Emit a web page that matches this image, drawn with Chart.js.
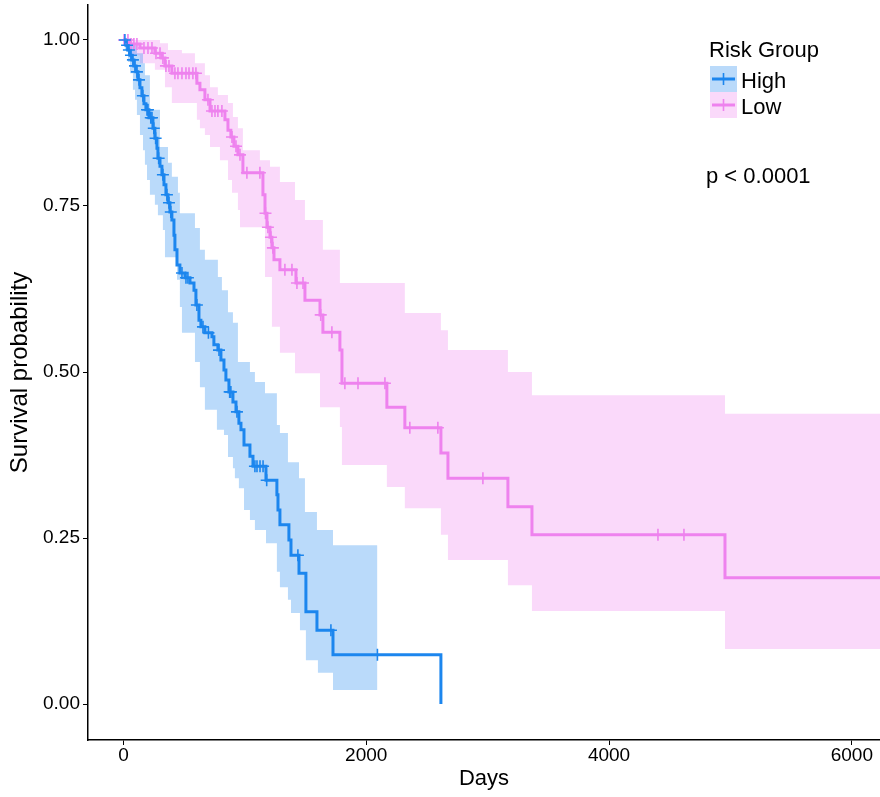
<!DOCTYPE html>
<html><head><meta charset="utf-8">
<script src="https://cdn.jsdelivr.net/npm/chart.js@4"></script>
<style>html,body{margin:0;padding:0;background:#fff}#wrap{width:880px;height:797px;position:relative}</style>
</head><body><div id="wrap"><canvas id="c" width="880" height="797"></canvas></div>
<script>
const xTicks = [0, 2000, 4000, 6000];
const yTicks = [0, 0.25, 0.5, 0.75, 1];
const groups = ['High', 'Low'];
const legendTitle = 'Risk Group';
const pValueText = 'p < 0.0001';

const highTime = [0,21,37,54,70,86,103,119,136,152,169,185,210,243,259,276,284,301,317,334,350,367,383,399,416,424,441,465,507,548,581,597,622,638,671,729,745,778,803,828,844,869,902,927,951,968,993,1042,1067,1174,1264,1273,1289,1363,1380,1446,1503,1594,1726,2615];
const highSurv = [1,0.992,0.985,0.977,0.970,0.961,0.952,0.940,0.928,0.916,0.904,0.895,0.883,0.867,0.852,0.837,0.822,0.810,0.797,0.782,0.767,0.755,0.741,0.729,0.706,0.684,0.661,0.649,0.642,0.634,0.623,0.601,0.578,0.568,0.559,0.553,0.541,0.533,0.518,0.503,0.488,0.470,0.455,0.440,0.423,0.413,0.390,0.373,0.358,0.337,0.315,0.292,0.270,0.247,0.224,0.197,0.139,0.111,0.074,0];

const highUpperTime = [0,54,111,161,177,218,301,367,399,449,465,589,630,671,778,811,861,902,943,1042,1083,1166,1264,1289,1355,1446,1495,1594,1726,2092];
const highUpper = [1,0.992,0.980,0.965,0.947,0.895,0.839,0.815,0.794,0.770,0.739,0.717,0.684,0.669,0.643,0.623,0.590,0.574,0.515,0.500,0.485,0.468,0.420,0.408,0.364,0.340,0.289,0.262,0.239,0.239];
const highLowerTime = [0,12,37,54,78,95,111,136,161,177,194,218,259,284,325,342,441,465,482,589,630,671,770,828,861,902,918,951,993,1042,1083,1174,1264,1289,1355,1380,1454,1503,1602,1726,2092];
const highLower = [1,0.985,0.967,0.950,0.925,0.910,0.887,0.857,0.834,0.812,0.789,0.767,0.752,0.736,0.714,0.673,0.639,0.598,0.559,0.515,0.477,0.443,0.413,0.405,0.372,0.355,0.340,0.325,0.292,0.277,0.262,0.242,0.199,0.176,0.157,0.137,0.111,0.066,0.047,0.021,0.021];

const highCensorTime = [12,30,45,62,78,95,111,128,160,194,202,225,235,250,265,290,325,358,375,390,482,515,531,605,655,700,787,875,885,935,1083,1100,1125,1150,1180,1437,1709,2092];
const highCensorSurv = [1,0.992,0.985,0.977,0.970,0.961,0.952,0.940,0.916,0.895,0.895,0.883,0.883,0.867,0.852,0.822,0.797,0.767,0.755,0.741,0.649,0.642,0.642,0.601,0.568,0.559,0.533,0.470,0.470,0.440,0.358,0.358,0.358,0.358,0.337,0.224,0.111,0.074];

const lowTime = [0,54,136,259,317,342,399,605,630,671,713,836,861,885,910,943,984,1149,1166,1182,1207,1223,1240,1289,1421,1495,1619,1643,1783,1800,2170,2318,2615,2673,3167,3365,4955,6232];
const lowSurv = [1,0.994,0.988,0.980,0.973,0.961,0.950,0.935,0.925,0.910,0.893,0.880,0.864,0.854,0.840,0.827,0.800,0.767,0.739,0.718,0.703,0.687,0.669,0.654,0.634,0.608,0.586,0.560,0.533,0.483,0.447,0.416,0.378,0.340,0.297,0.255,0.190,0.190];

const lowUpperTime = [0,301,367,482,589,671,713,778,861,902,943,984,1124,1207,1289,1413,1495,1643,1783,2318,2615,2673,3167,3365,4955,6232];
const lowUpper = [1,0.995,0.985,0.980,0.965,0.947,0.929,0.917,0.905,0.884,0.867,0.834,0.819,0.809,0.786,0.759,0.729,0.684,0.634,0.589,0.563,0.533,0.500,0.465,0.437,0.437];
const lowLowerTime = [0,12,54,136,259,342,399,605,630,671,713,795,861,894,943,960,1166,1223,1289,1413,1619,1783,1800,2170,2318,2615,2673,3167,3365,4955,6232];
const lowLower = [1,0.992,0.977,0.965,0.955,0.929,0.905,0.880,0.867,0.857,0.839,0.819,0.789,0.770,0.744,0.718,0.643,0.568,0.529,0.498,0.447,0.417,0.360,0.327,0.295,0.255,0.217,0.179,0.140,0.083,0.083];

const lowCensorTime = [5,37,62,86,111,169,202,235,268,301,325,350,375,424,449,482,515,540,572,597,696,729,754,778,811,894,927,960,1017,1124,1170,1190,1215,1231,1330,1388,1429,1479,1625,1717,1824,1932,2154,2359,2590,2961,4403,4617];
const lowCensorSurv = [1,1,0.994,0.994,0.994,0.988,0.988,0.988,0.980,0.980,0.973,0.961,0.961,0.950,0.950,0.950,0.950,0.950,0.950,0.950,0.910,0.893,0.893,0.893,0.893,0.854,0.840,0.827,0.800,0.800,0.739,0.718,0.703,0.687,0.654,0.654,0.634,0.634,0.586,0.560,0.483,0.483,0.483,0.416,0.416,0.340,0.255,0.255];

const lineColors = ['#1C86EE', '#EE82EE'];
const bandColors = ['rgba(28,134,238,0.3)', 'rgba(238,130,238,0.3)'];
const FONT = '"Liberation Sans", Arial, Helvetica, sans-serif';

const pts = (t, s) => t.map((v, i) => ({x: v, y: s[i]}));

const datasets = [];
const series = [
  [highTime, highSurv, highUpperTime, highUpper, highLowerTime, highLower, highCensorTime, highCensorSurv],
  [lowTime, lowSurv, lowUpperTime, lowUpper, lowLowerTime, lowLower, lowCensorTime, lowCensorSurv]
];
series.forEach((s, g) => {
  datasets.push({label: groups[g] + ' upper', data: pts(s[2], s[3]), stepped: true, borderWidth: 0, pointRadius: 0, fill: '+1', backgroundColor: bandColors[g], borderColor: 'rgba(0,0,0,0)', order: 5 + g});
  datasets.push({label: groups[g] + ' lower', data: pts(s[4], s[5]), stepped: true, borderWidth: 0, pointRadius: 0, fill: false, borderColor: 'rgba(0,0,0,0)', order: 5 + g});
});
series.forEach((s, g) => {
  datasets.push({label: groups[g], data: pts(s[0], s[1]), stepped: true, borderWidth: 3, pointRadius: 0, fill: false, borderColor: lineColors[g], order: 3});
  datasets.push({label: groups[g] + ' censor', type: 'scatter', data: pts(s[6], s[7]), pointStyle: 'cross', pointRadius: 6, borderWidth: 1.6, borderColor: lineColors[g], backgroundColor: lineColors[g], order: 1});
});

const legendPlugin = {
  id: 'kmLegend',
  afterDraw(chart) {
    const ctx = chart.ctx;
    ctx.save();
    ctx.fillStyle = '#000';
    ctx.textBaseline = 'alphabetic';
    ctx.textAlign = 'left';
    ctx.font = '22px ' + FONT;
    ctx.fillText(legendTitle, 709, 57);
    groups.forEach((g, i) => {
      const y0 = 66 + i * 26;
      ctx.fillStyle = '#fff';
      ctx.fillRect(710, y0, 27, 26);
      ctx.fillStyle = bandColors[i];
      ctx.fillRect(710, y0, 27, 26);
      ctx.strokeStyle = lineColors[i];
      ctx.lineWidth = 3;
      ctx.beginPath(); ctx.moveTo(712, y0 + 13); ctx.lineTo(735, y0 + 13); ctx.stroke();
      ctx.lineWidth = 1.6;
      ctx.beginPath(); ctx.moveTo(723.5, y0 + 7); ctx.lineTo(723.5, y0 + 19); ctx.stroke();
      ctx.fillStyle = '#000';
      ctx.font = '22px ' + FONT;
      ctx.fillText(g, 741, y0 + 22);
    });
    ctx.font = '22px ' + FONT;
    ctx.fillText(pValueText, 706, 183);
    ctx.restore();
  }
};

new Chart(document.getElementById('c'), {
  type: 'line',
  data: {datasets},
  plugins: [legendPlugin],
  options: {
    responsive: false,
    animation: false,
    devicePixelRatio: 1,
    layout: {autoPadding: false, padding: {top: 5, right: 0, left: 0, bottom: 0}},
    plugins: {legend: {display: false}, tooltip: {enabled: false}},
    elements: {line: {tension: 0}},
    scales: {
      x: {
        type: 'linear', min: -292, max: 6232,
        afterBuildTicks: sc => { sc.ticks = xTicks.map(v => ({value: v})); },
        afterFit: sc => { sc.height = 57; sc.paddingLeft = 0; sc.paddingRight = 0; sc.paddingTop = 0; sc.paddingBottom = 0; },
        grid: {drawOnChartArea: false, drawTicks: true, tickLength: 5, color: '#000', lineWidth: 1},
        border: {display: true, color: '#000', width: 1.5},
        ticks: {color: '#000', font: {family: FONT, size: 19}, padding: -1, maxRotation: 0, callback: v => String(v)},
        title: {display: true, text: 'Days', color: '#000', font: {family: FONT, size: 22}, padding: {top: 0, bottom: 5}}
      },
      y: {
        type: 'linear', min: -0.0542, max: 1.0527,
        afterBuildTicks: sc => { sc.ticks = yTicks.map(v => ({value: v})); },
        afterFit: sc => { sc.width = 88; sc.paddingTop = 0; sc.paddingBottom = 0; sc.paddingLeft = 0; sc.paddingRight = 0; },
        grid: {drawOnChartArea: false, drawTicks: true, tickLength: 5, color: '#000', lineWidth: 1},
        border: {display: true, color: '#000', width: 1.5},
        ticks: {color: '#000', font: {family: FONT, size: 19}, padding: 3, callback: v => v.toFixed(2)},
        title: {display: true, text: 'Survival probability', color: '#000', font: {family: FONT, size: 24}, padding: {top: 6, bottom: 0}}
      }
    }
  }
});
</script>
</body></html>
